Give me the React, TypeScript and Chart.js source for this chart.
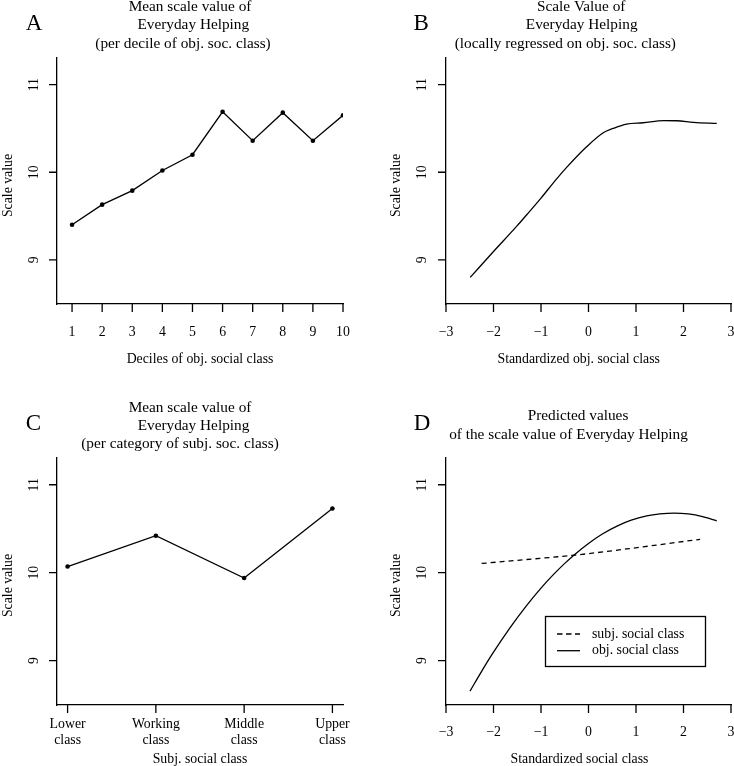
import React, { useEffect, useRef } from 'react';
import { Chart, registerables } from 'chart.js';

Chart.register(...registerables);

const SERIF = '"Liberation Serif", "Times New Roman", Times, serif';

// ---------- Data ----------
// Panel A: mean per decile of objective social class
const decileCategories = [1, 2, 3, 4, 5, 6, 7, 8, 9, 10];
const decileMeans = [9.4, 9.63, 9.79, 10.02, 10.2, 10.69, 10.36, 10.68, 10.36, 10.65];

// Panel B: loess of scale value on standardized objective social class
const loessX = [-2.49, -2.0, -1.5, -1.3, -1.0, -0.67, -0.46, -0.04, 0.31, 0.52, 0.8, 1.15, 1.58, 1.86, 2.21, 2.7];
const loessY = [8.8, 9.095, 9.39, 9.515, 9.705, 9.925, 10.055, 10.29, 10.45, 10.5, 10.55, 10.565, 10.59, 10.588, 10.57, 10.557];

// Panel C: mean per category of subjective social class
const subjCategories = [
  ['Lower', 'class'],
  ['Working', 'class'],
  ['Middle', 'class'],
  ['Upper', 'class'],
];
const subjMeans = [10.07, 10.42, 9.94, 10.73];

// Panel D: predicted values
const predObjX = [-2.495, -2.25, -2.0, -1.65, -1.3, -1.0, -0.74, -0.5, -0.284, 0, 0.3, 0.6, 0.9, 1.225, 1.5, 1.8, 2.1, 2.4, 2.7];
const predObjY = [8.654, 8.879, 9.096, 9.376, 9.629, 9.825, 9.978, 10.106, 10.211, 10.333, 10.443, 10.53, 10.597, 10.645, 10.668, 10.678, 10.668, 10.638, 10.59];
const predSubjX = [-2.25, -1.3, -0.284, 0.8, 2.35];
const predSubjY = [10.105, 10.15, 10.2, 10.27, 10.38];

// Tick values / labels
const scaleTicks = [9, 10, 11];
const stdTicks = [-3, -2, -1, 0, 1, 2, 3];
const stdTickLabels = ['\u22123', '\u22122', '\u22121', '0', '1', '2', '3'];
const legendLabels = ['subj. social class', 'obj. social class'];

// ---------- Layout specs ----------
type Txt = { text: string; x: number; y: number; size: number; rot?: boolean };

type Spec = {
  left: number;
  top: number;
  padding: { left: number; right: number; top: number; bottom: number };
  xMin: number;
  xMax: number;
  xTicks: number[];
  xTickLabels: (string | string[])[];
  xTickY: number[];
  yTickX: number;
  datasets: any[];
  texts: Txt[];
  legend?: boolean;
};

const Y_MIN = 8.496;
const Y_MAX = 11.304;
const TITLE = 15.3;
const LAB = 13.8;
const LET = 23;
const TICK_LEN = 8;
const LW = 1.3;

const pts = (xs: number[], ys: number[]) => xs.map((x, i) => ({ x, y: ys[i] }));

const specA: Spec = {
  left: 0,
  top: 0,
  padding: { left: 49, right: 24, top: 58, bottom: 71 },
  xMin: 0.5,
  xMax: 10,
  xTicks: decileCategories,
  xTickLabels: decileCategories.map(String),
  xTickY: [336],
  yTickX: 38.3,
  datasets: [
    {
      data: pts(decileCategories, decileMeans),
      borderColor: '#000',
      borderWidth: LW,
      pointRadius: 2.3,
      pointBackgroundColor: '#000',
      pointBorderWidth: 0,
      tension: 0,
      clip: 0,
    },
  ],
  texts: [
    { text: 'A', x: 34, y: 30, size: LET },
    { text: 'Mean scale value of', x: 190, y: 10.8, size: TITLE },
    { text: 'Everyday Helping', x: 193.3, y: 29.3, size: TITLE },
    { text: '(per decile of obj. soc. class)', x: 183, y: 47.8, size: TITLE },
    { text: 'Deciles of obj. social class', x: 200, y: 362.7, size: LAB },
    { text: 'Scale value', x: 11.5, y: 185.5, size: LAB, rot: true },
  ],
};

const specB: Spec = {
  left: 367,
  top: 0,
  padding: { left: 71, right: 3, top: 58, bottom: 71 },
  xMin: -3,
  xMax: 3,
  xTicks: stdTicks,
  xTickLabels: stdTickLabels,
  xTickY: [336],
  yTickX: 59.3,
  datasets: [
    {
      data: pts(loessX, loessY),
      borderColor: '#000',
      borderWidth: LW,
      pointRadius: 0,
      cubicInterpolationMode: 'monotone',
    },
  ],
  texts: [
    { text: 'B', x: 54.2, y: 30, size: LET },
    { text: 'Scale Value of', x: 214.2, y: 10.8, size: TITLE },
    { text: 'Everyday Helping', x: 214.7, y: 29.3, size: TITLE },
    { text: '(locally regressed on obj. soc. class)', x: 198.3, y: 47.8, size: TITLE },
    { text: 'Standardized obj. social class', x: 211.7, y: 362.7, size: LAB },
    { text: 'Scale value', x: 32.7, y: 185.5, size: LAB, rot: true },
  ],
};

const specC: Spec = {
  left: 0,
  top: 383,
  padding: { left: 49, right: 24, top: 75, bottom: 53 },
  xMin: 0.88,
  xMax: 4.12,
  xTicks: [1, 2, 3, 4],
  xTickLabels: subjCategories,
  xTickY: [345, 361],
  yTickX: 38.3,
  datasets: [
    {
      data: pts([1, 2, 3, 4], subjMeans),
      borderColor: '#000',
      borderWidth: LW,
      pointRadius: 2.3,
      pointBackgroundColor: '#000',
      pointBorderWidth: 0,
      tension: 0,
    },
  ],
  texts: [
    { text: 'C', x: 33.3, y: 46.7, size: LET },
    { text: 'Mean scale value of', x: 190, y: 28.5, size: TITLE },
    { text: 'Everyday Helping', x: 193.5, y: 46.8, size: TITLE },
    { text: '(per category of subj. soc. class)', x: 180, y: 65.1, size: TITLE },
    { text: 'Subj. social class', x: 200, y: 380, size: LAB },
    { text: 'Scale value', x: 11.5, y: 202.5, size: LAB, rot: true },
  ],
};

const specD: Spec = {
  left: 367,
  top: 383,
  padding: { left: 71, right: 3, top: 75, bottom: 53 },
  xMin: -3,
  xMax: 3,
  xTicks: stdTicks,
  xTickLabels: stdTickLabels,
  xTickY: [352.7],
  yTickX: 59.3,
  datasets: [
    {
      data: pts(predSubjX, predSubjY),
      borderColor: '#000',
      borderWidth: LW,
      borderDash: [5, 4],
      pointRadius: 0,
      cubicInterpolationMode: 'monotone',
    },
    {
      data: pts(predObjX, predObjY),
      borderColor: '#000',
      borderWidth: LW,
      pointRadius: 0,
      cubicInterpolationMode: 'monotone',
    },
  ],
  texts: [
    { text: 'D', x: 55, y: 47.3, size: LET },
    { text: 'Predicted values', x: 211, y: 37.3, size: TITLE },
    { text: 'of the scale value of Everyday Helping', x: 201.5, y: 55.7, size: TITLE },
    { text: 'Standardized social class', x: 212.5, y: 380, size: LAB },
    { text: 'Scale value', x: 32.7, y: 202.5, size: LAB, rot: true },
  ],
  legend: true,
};

const specs = [specA, specB, specC, specD];

// ---------- Plugin drawing R-style text and tick marks ----------
const textPlugin = (spec: Spec) => ({
  id: 'rtext',
  afterDraw(chart: any) {
    const ctx: CanvasRenderingContext2D = chart.ctx;
    const xs = chart.scales.x;
    const ys = chart.scales.y;
    const area = chart.chartArea;
    ctx.save();
    ctx.fillStyle = '#000';
    ctx.strokeStyle = '#000';
    ctx.lineWidth = LW;

    // tick marks (outside the L-shaped box)
    const by = area.bottom;
    const lx = area.left;
    ctx.beginPath();
    for (const v of spec.xTicks) {
      const px = xs.getPixelForValue(v);
      ctx.moveTo(px, by);
      ctx.lineTo(px, by + TICK_LEN);
    }
    for (const v of scaleTicks) {
      const py = ys.getPixelForValue(v);
      ctx.moveTo(lx, py);
      ctx.lineTo(lx - TICK_LEN, py);
    }
    ctx.stroke();

    ctx.textBaseline = 'alphabetic';
    ctx.textAlign = 'center';
    for (const t of spec.texts) {
      ctx.font = `${t.size}px ${SERIF}`;
      if (t.rot) {
        ctx.save();
        ctx.translate(t.x, t.y);
        ctx.rotate(-Math.PI / 2);
        ctx.fillText(t.text, 0, 0);
        ctx.restore();
      } else {
        ctx.fillText(t.text, t.x, t.y);
      }
    }
    ctx.font = `${LAB}px ${SERIF}`;
    for (const v of scaleTicks) {
      const py = ys.getPixelForValue(v);
      ctx.save();
      ctx.translate(spec.yTickX, py);
      ctx.rotate(-Math.PI / 2);
      ctx.fillText(String(v), 0, 0);
      ctx.restore();
    }
    spec.xTickLabels.forEach((lab, i) => {
      const px = xs.getPixelForValue(spec.xTicks[i]);
      const lines = Array.isArray(lab) ? lab : [lab];
      lines.forEach((ln, j) => ctx.fillText(ln, px, spec.xTickY[j]));
    });
    if (spec.legend) {
      ctx.lineWidth = LW;
      ctx.strokeRect(178.5, 233.5, 160, 50);
      ctx.beginPath();
      ctx.setLineDash([5.5, 3.5]);
      ctx.moveTo(190, 251);
      ctx.lineTo(213, 251);
      ctx.stroke();
      ctx.setLineDash([]);
      ctx.beginPath();
      ctx.moveTo(190, 267.7);
      ctx.lineTo(213, 267.7);
      ctx.stroke();
      ctx.textAlign = 'left';
      ctx.fillText(legendLabels[0], 225, 254.7);
      ctx.fillText(legendLabels[1], 225, 271.3);
    }
    ctx.restore();
  },
});

const axisCommon = {
  grid: {
    display: true,
    drawOnChartArea: false,
    drawTicks: true,
    tickLength: TICK_LEN,
    color: 'rgba(0,0,0,0)',
    lineWidth: 1,
  },
  border: { display: true, color: '#000', width: LW },
  ticks: { display: false },
};

function buildConfig(spec: Spec): any {
  return {
    type: 'line',
    data: { datasets: spec.datasets },
    options: {
      animation: false,
      responsive: false,
      maintainAspectRatio: false,
      layout: { padding: spec.padding },
      plugins: {
        legend: { display: false },
        tooltip: { enabled: false },
        title: { display: false },
      },
      scales: {
        x: {
          type: 'linear',
          min: spec.xMin,
          max: spec.xMax,
          afterBuildTicks: (ax: any) => {
            ax.ticks = spec.xTicks.map((v) => ({ value: v }));
          },
          ...axisCommon,
        },
        y: {
          type: 'linear',
          min: Y_MIN,
          max: Y_MAX,
          afterBuildTicks: (ax: any) => {
            ax.ticks = scaleTicks.map((v) => ({ value: v }));
          },
          ...axisCommon,
        },
      },
    },
    plugins: [textPlugin(spec)],
  };
}

function Panel({ spec }: { spec: Spec }) {
  const ref = useRef<HTMLCanvasElement>(null);
  useEffect(() => {
    if (!ref.current) return;
    const chart = new Chart(ref.current, buildConfig(spec));
    return () => chart.destroy();
  }, [spec]);
  return (
    <canvas
      ref={ref}
      width={367}
      height={383}
      style={{ position: 'absolute', left: spec.left, top: spec.top, width: 367, height: 383 }}
    />
  );
}

export default function App() {
  return (
    <div style={{ position: 'absolute', left: 0, top: 0, width: 734, height: 766, background: '#fff', overflow: 'hidden' }}>
      {specs.map((s, i) => (
        <Panel key={i} spec={s} />
      ))}
    </div>
  );
}
